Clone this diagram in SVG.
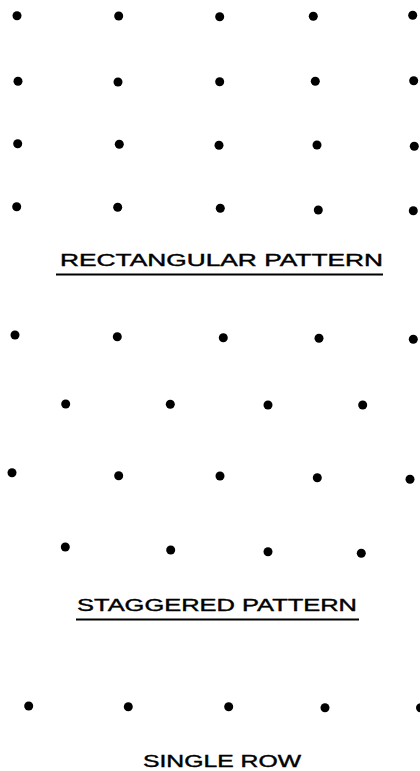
<svg xmlns="http://www.w3.org/2000/svg" width="420" height="771" viewBox="0 0 420 771">
<style>
.d{fill:#000}
.t{font-family:"Liberation Sans",Arial,sans-serif;font-size:17px;fill:#000;stroke:#000;stroke-width:0.4}
.u{stroke:#000;stroke-width:2}
</style>
<rect width="420" height="771" fill="#fff"/>
<g id="rectangular">
<circle class="d" cx="17" cy="15.7" r="4.5"/><circle class="d" cx="118.7" cy="16" r="4.5"/><circle class="d" cx="219.7" cy="16.7" r="4.5"/><circle class="d" cx="313.3" cy="16.3" r="4.5"/><circle class="d" cx="412.7" cy="15.3" r="4.5"/>
<circle class="d" cx="18" cy="81.3" r="4.5"/><circle class="d" cx="118" cy="82" r="4.5"/><circle class="d" cx="219.7" cy="81.7" r="4.5"/><circle class="d" cx="315.3" cy="81.3" r="4.5"/><circle class="d" cx="413.7" cy="80.7" r="4.5"/>
<circle class="d" cx="17.7" cy="143.7" r="4.5"/><circle class="d" cx="119.3" cy="144.3" r="4.5"/><circle class="d" cx="219" cy="145.3" r="4.5"/><circle class="d" cx="317" cy="145" r="4.5"/><circle class="d" cx="414.3" cy="146.3" r="4.5"/>
<circle class="d" cx="16.7" cy="206.7" r="4.5"/><circle class="d" cx="117.7" cy="207.3" r="4.5"/><circle class="d" cx="220.3" cy="208.3" r="4.5"/><circle class="d" cx="318.3" cy="210" r="4.5"/><circle class="d" cx="413.3" cy="210.7" r="4.5"/>
<text class="t" x="60" y="266" textLength="323" lengthAdjust="spacingAndGlyphs">RECTANGULAR PATTERN</text>
<line class="u" x1="56" y1="274.5" x2="383" y2="274.5"/>
</g>
<g id="staggered">
<circle class="d" cx="15" cy="335" r="4.5"/><circle class="d" cx="117.3" cy="336.7" r="4.5"/><circle class="d" cx="223.3" cy="337.7" r="4.5"/><circle class="d" cx="319" cy="338.3" r="4.5"/><circle class="d" cx="413.3" cy="339.3" r="4.5"/>
<circle class="d" cx="65.7" cy="404" r="4.5"/><circle class="d" cx="170.3" cy="404.3" r="4.5"/><circle class="d" cx="268" cy="405" r="4.5"/><circle class="d" cx="362.7" cy="405" r="4.5"/>
<circle class="d" cx="12" cy="472.7" r="4.5"/><circle class="d" cx="118.7" cy="475.7" r="4.5"/><circle class="d" cx="220" cy="476" r="4.5"/><circle class="d" cx="317.3" cy="477.7" r="4.5"/><circle class="d" cx="410" cy="479.3" r="4.5"/>
<circle class="d" cx="65.3" cy="547" r="4.5"/><circle class="d" cx="170.7" cy="550" r="4.5"/><circle class="d" cx="268" cy="551.7" r="4.5"/><circle class="d" cx="361.3" cy="553.3" r="4.5"/>
<text class="t" x="77" y="611" textLength="280" lengthAdjust="spacingAndGlyphs">STAGGERED PATTERN</text>
<line class="u" x1="76" y1="619.5" x2="359" y2="619.5"/>
</g>
<g id="single-row">
<circle class="d" cx="28.7" cy="706" r="4.5"/><circle class="d" cx="128.3" cy="706.7" r="4.5"/><circle class="d" cx="228.7" cy="706.7" r="4.5"/><circle class="d" cx="325" cy="707.7" r="4.5"/><circle class="d" cx="420.5" cy="707.7" r="4.5"/>
<text class="t" x="143" y="767" textLength="158" lengthAdjust="spacingAndGlyphs">SINGLE ROW</text>
</g>
</svg>
